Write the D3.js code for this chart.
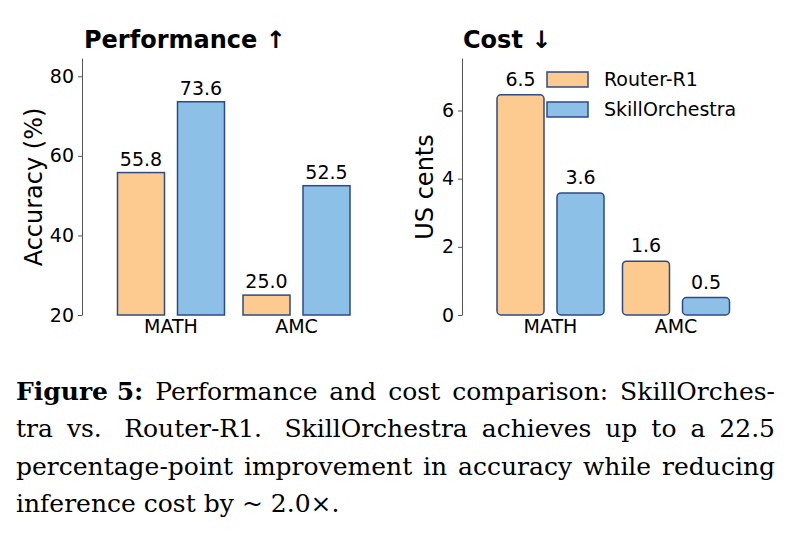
<!DOCTYPE html>
<html>
<head>
<meta charset="utf-8">
<script src="https://cdn.jsdelivr.net/npm/d3@7"></script>
<style>
  body { margin: 0; background: #fff; }
  svg text { font-family: "DejaVu Sans", sans-serif; }
</style>
</head>
<body>
<div id="chart"></div>
<script>
// data
const categories = ["MATH", "AMC"];
const methods = ["Router-R1", "SkillOrchestra"];
const accuracy = { "Router-R1": [55.8, 25.0], "SkillOrchestra": [73.6, 52.5] };
const cost = { "Router-R1": [6.46, 1.58], "SkillOrchestra": [3.58, 0.51] };
const accTicks = [20, 40, 60, 80];
const costTicks = [0, 2, 4, 6];
const captionLines = [
    [{ t: "Figure 5:", b: true }, "Performance", "and", "cost", "comparison:", "SkillOrches-"],
    ["tra", "vs.", "", "Router-R1.", "", "SkillOrchestra", "achieves", "up", "to", "a", "22.5"],
    ["percentage-point", "improvement", "in", "accuracy", "while", "reducing"],
    ["inference", "cost", "by", "~", "2.0\u00d7."]
];

const width = 792, height = 537;
const colors = { "Router-R1": "#fdcb8f", "SkillOrchestra": "#8cc0e6" };
const edge = "#2e4a86";

const svg = d3.select("#chart").append("svg")
    .attr("width", width)
    .attr("height", height);

function drawPanel(opts) {
    const g = svg.append("g");

    const y = d3.scaleLinear().domain(opts.domain).range([315, 58]);
    const x = d3.scaleBand().domain(categories).range(opts.xRange);
    const xSub = d3.scaleBand().domain(methods).range([-53.5, 53.5]).paddingInner(0.2167);

    const yAxis = g.append("g")
        .attr("transform", `translate(${opts.axisX},0)`)
        .call(d3.axisLeft(y).tickValues(opts.ticks).tickSize(4).tickSizeOuter(0).tickPadding(4));
    yAxis.select(".domain").attr("stroke", "#555");
    yAxis.selectAll(".tick line").attr("stroke", "#555");
    yAxis.selectAll(".tick text").attr("font-size", 19).attr("fill", "#000")
        .attr("font-family", "DejaVu Sans");

    const xAxis = g.append("g")
        .attr("transform", "translate(0,315)")
        .call(d3.axisBottom(x).tickSize(0).tickPadding(5));
    xAxis.select(".domain").remove();
    xAxis.selectAll(".tick text").attr("font-size", 19).attr("fill", "#000")
        .attr("font-family", "DejaVu Sans");

    const rows = [];
    methods.forEach(m => categories.forEach((c, i) => rows.push({ m, c, v: opts.values[m][i] })));

    g.selectAll(".bar")
        .data(rows)
        .enter().append("rect")
        .attr("class", "bar")
        .attr("x", d => x(d.c) + x.bandwidth() / 2 + xSub(d.m))
        .attr("y", d => y(d.v))
        .attr("width", xSub.bandwidth())
        .attr("height", d => y(opts.domain[0]) - y(d.v))
        .attr("rx", opts.rx)
        .attr("fill", d => colors[d.m])
        .attr("stroke", edge)
        .attr("stroke-width", 1.5);

    g.selectAll(".val")
        .data(rows)
        .enter().append("text")
        .attr("x", d => x(d.c) + x.bandwidth() / 2 + xSub(d.m) + xSub.bandwidth() / 2)
        .attr("y", d => y(d.v) - opts.labelGap)
        .attr("text-anchor", "middle")
        .attr("font-size", 19)
        .text(d => d.v.toFixed(1));

    g.append("text")
        .attr("transform", `translate(${opts.labelX},187) rotate(-90)`)
        .attr("text-anchor", "middle")
        .attr("font-size", 24)
        .text(opts.ylabel);

    g.append("text")
        .attr("x", opts.titleX)
        .attr("y", 48)
        .attr("font-size", 24)
        .attr("font-weight", "bold")
        .text(opts.title);

    return g;
}

drawPanel({
    domain: [20, 84.6], ticks: accTicks, values: accuracy,
    xRange: [108.25, 359.25], axisX: 82, rx: 0, labelGap: 7,
    labelX: 42, ylabel: "Accuracy (%)", titleX: 84, title: "Performance \u2191"
});

const costPanel = drawPanel({
    domain: [0, 7.54], ticks: costTicks, values: cost,
    xRange: [487.75, 738.75], axisX: 462, rx: 4, labelGap: 9,
    labelX: 433, ylabel: "US cents", titleX: 463, title: "Cost \u2193"
});

// legend
const legend = costPanel.append("g").attr("transform", "translate(547,72)");
methods.forEach((m, i) => {
    const row = legend.append("g").attr("transform", `translate(0,${i * 30})`);
    row.append("rect")
        .attr("width", 41).attr("height", 15)
        .attr("fill", colors[m]).attr("stroke", edge).attr("stroke-width", 1.5);
    row.append("text")
        .attr("x", 57).attr("y", 7.5).attr("dy", "0.35em")
        .attr("font-size", 19)
        .text(m);
});

// caption, justified
const capLeft = 16, capRight = 775, capTop = 400, lineStep = 37.3;
captionLines.forEach((words, li) => {
    const lineG = svg.append("g");
    const items = [];
    words.forEach(w => {
        if (w === "") { items[items.length - 1].extra = true; return; }
        const word = typeof w === "string" ? { t: w, b: false } : w;
        const el = lineG.append("text")
            .attr("y", capTop + li * lineStep)
            .attr("font-family", "DejaVu Serif")
            .attr("font-size", 25)
            .attr("font-weight", word.b ? "bold" : "normal")
            .style("font-family", "'DejaVu Serif', serif")
            .text(word.t);
        items.push({ el, w: el.node().getComputedTextLength(), extra: false });
    });
    const total = d3.sum(items, d => d.w);
    const weights = items.slice(0, -1).map(d => d.extra ? 1.6 : 1);
    const last = li === captionLines.length - 1;
    const unit = last ? 8 : (capRight - capLeft - total) / d3.sum(weights);
    let cx = capLeft;
    items.forEach((d, i) => {
        d.el.attr("x", cx);
        cx += d.w + (i < weights.length ? weights[i] * unit : 0);
    });
});
</script>
</body>
</html>
